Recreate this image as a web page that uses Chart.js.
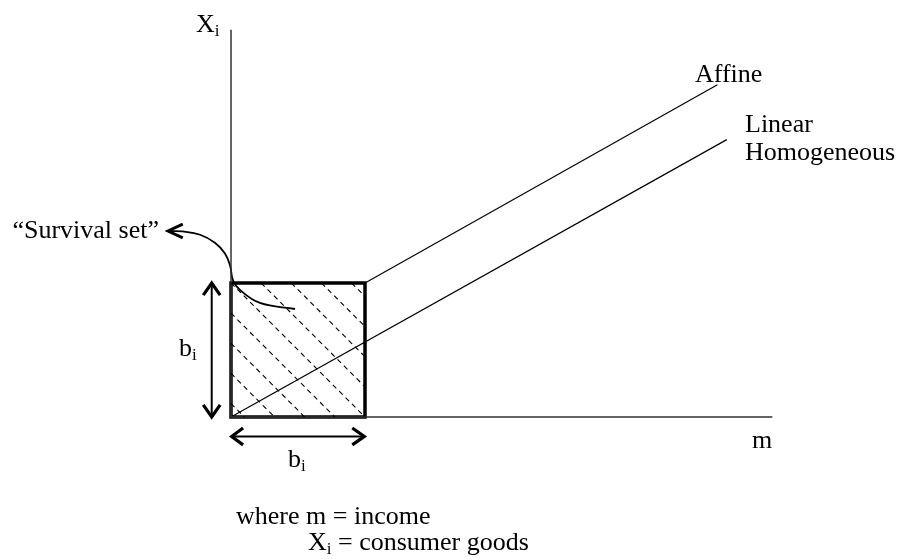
<!DOCTYPE html>
<html>
<head>
<meta charset="utf-8">
<script src="https://cdn.jsdelivr.net/npm/chart.js@4"></script>
<style>
  html, body { margin: 0; padding: 0; background: #fff; }
  canvas { display: block; }
</style>
</head>
<body>
<canvas id="diagram" width="899" height="559"></canvas>
<script>
// Data units: the survival set side b_i = 1
const axisX = [0, 0, 4.04];
const axisY = [2.89, 0, 0];

const boxX = [0, 0, 1, 1, 0];
const boxY = [0, 1, 1, 0, 0];

const affineX = [1, 3.63];
const affineY = [1, 2.48];

const linearX = [0, 3.70];
const linearY = [0, 2.07];

// dashed hatching inside the box, [x1, y1, x2, y2]
const hatchSegments = [
  [0, 0.1, 0.1, 0],
  [0, 0.325, 0.325, 0],
  [0, 0.55, 0.55, 0],
  [0, 0.775, 0.775, 0],
  [0, 1, 1, 0],
  [0.225, 1, 1, 0.225],
  [0.45, 1, 1, 0.45],
  [0.675, 1, 1, 0.675],
  [0.9, 1, 1, 0.9]
];

// curved pointer from the box corner to the "Survival set" label
const curveX = [0.478, 0.216, 0.067, 0.015, -0.007, -0.045, -0.12, -0.23, -0.36, -0.455];
const curveY = [0.806, 0.851, 0.948, 1.02, 1.13, 1.22, 1.30, 1.36, 1.385, 1.388];
const curveHeadX = [-0.36, -0.47, -0.36];
const curveHeadY = [1.44, 1.388, 1.336];

// double arrows marking b_i
const vArrowX = [-0.144, -0.144];
const vArrowY = [0, 1];
const vHeadTopX = [-0.207, -0.144, -0.081];
const vHeadTopY = [0.91, 1, 0.91];
const vHeadBotX = [-0.207, -0.144, -0.081];
const vHeadBotY = [0.09, 0, 0.09];

const hArrowX = [0.005, 0.995];
const hArrowY = [-0.145, -0.145];
const hHeadLeftX = [0.09, 0.005, 0.09];
const hHeadLeftY = [-0.082, -0.145, -0.208];
const hHeadRightX = [0.905, 0.995, 0.905];
const hHeadRightY = [-0.082, -0.145, -0.208];

const labelTexts = {
  yAxis: ['X', 'i'],
  xAxis: 'm',
  affine: 'Affine',
  linear: ['Linear', 'Homogeneous'],
  survival: '\u201CSurvival set\u201D',
  side: ['b', 'i'],
  note1: 'where m = income',
  note2: ['X', 'i', ' = consumer goods']
};

// pixel layout of the picture
const ORIGIN_X = 231;
const ORIGIN_Y = 417;
const UNIT = 134;
const W = 899;
const H = 559;

function pts(xs, ys) {
  return xs.map((x, i) => ({ x: x, y: ys[i] }));
}

function lineSet(data, opts) {
  return Object.assign({
    data: data,
    showLine: true,
    borderColor: '#000',
    borderWidth: 1.2,
    pointRadius: 0,
    fill: false,
    tension: 0
  }, opts || {});
}

const datasets = [];

// hatching first so everything else sits on top
hatchSegments.forEach(s => {
  datasets.push(lineSet(pts([s[0], s[2]], [s[1], s[3]]), { borderDash: [5, 4], borderWidth: 1.1 }));
});

datasets.push(lineSet(pts(axisX, axisY), { borderColor: '#333', borderWidth: 1.5 }));
datasets.push(lineSet(pts(affineX, affineY)));
datasets.push(lineSet(pts(linearX, linearY)));
datasets.push(lineSet(pts(boxX, boxY), { borderWidth: 3.5, borderJoinStyle: 'miter', borderCapStyle: 'square' }));
datasets.push(lineSet(pts(curveX, curveY), { tension: 0.4, borderWidth: 1.8 }));
datasets.push(lineSet(pts(curveHeadX, curveHeadY), { borderWidth: 3, borderJoinStyle: 'miter' }));

datasets.push(lineSet(pts(vArrowX, vArrowY), { borderWidth: 2 }));
datasets.push(lineSet(pts(vHeadTopX, vHeadTopY), { borderWidth: 3.2, borderJoinStyle: 'miter' }));
datasets.push(lineSet(pts(vHeadBotX, vHeadBotY), { borderWidth: 3.2, borderJoinStyle: 'miter' }));
datasets.push(lineSet(pts(hArrowX, hArrowY), { borderWidth: 2 }));
datasets.push(lineSet(pts(hHeadLeftX, hHeadLeftY), { borderWidth: 3.2, borderJoinStyle: 'miter' }));
datasets.push(lineSet(pts(hHeadRightX, hHeadRightY), { borderWidth: 3.2, borderJoinStyle: 'miter' }));

// Draw text with an optional subscript piece
function drawSub(ctx, x, y, main, sub, rest) {
  ctx.font = '26px "Liberation Serif", "Times New Roman", serif';
  ctx.fillText(main, x, y);
  let cx = x + ctx.measureText(main).width;
  ctx.font = '17px "Liberation Serif", "Times New Roman", serif';
  ctx.fillText(sub, cx, y + 4);
  cx += ctx.measureText(sub).width;
  if (rest) {
    ctx.font = '26px "Liberation Serif", "Times New Roman", serif';
    ctx.fillText(rest, cx, y);
  }
}

const textPlugin = {
  id: 'diagramText',
  afterDraw(chart) {
    const ctx = chart.ctx;
    ctx.save();
    ctx.fillStyle = '#000';
    ctx.textBaseline = 'alphabetic';
    ctx.textAlign = 'left';

    drawSub(ctx, 196, 32, labelTexts.yAxis[0], labelTexts.yAxis[1]);

    ctx.font = '26px "Liberation Serif", "Times New Roman", serif';
    ctx.fillText(labelTexts.affine, 695, 82);
    ctx.fillText(labelTexts.linear[0], 745, 132);
    ctx.fillText(labelTexts.linear[1], 745, 160);
    ctx.fillText(labelTexts.xAxis, 752, 448);

    ctx.textAlign = 'right';
    ctx.fillText(labelTexts.survival, 159, 238);
    ctx.textAlign = 'left';

    drawSub(ctx, 179, 356, labelTexts.side[0], labelTexts.side[1]);
    drawSub(ctx, 288, 467, labelTexts.side[0], labelTexts.side[1]);

    ctx.font = '26px "Liberation Serif", "Times New Roman", serif';
    ctx.fillText(labelTexts.note1, 236, 524);
    drawSub(ctx, 308, 550, labelTexts.note2[0], labelTexts.note2[1], labelTexts.note2[2]);

    ctx.restore();
  }
};

new Chart(document.getElementById('diagram').getContext('2d'), {
  type: 'scatter',
  data: { datasets: datasets },
  options: {
    responsive: false,
    animation: false,
    layout: { padding: 0 },
    scales: {
      x: {
        type: 'linear',
        display: false,
        min: -ORIGIN_X / UNIT,
        max: (W - ORIGIN_X) / UNIT
      },
      y: {
        type: 'linear',
        display: false,
        min: -(H - ORIGIN_Y) / UNIT,
        max: ORIGIN_Y / UNIT
      }
    },
    plugins: {
      legend: { display: false },
      tooltip: { enabled: false }
    },
    elements: { point: { radius: 0 } }
  },
  plugins: [textPlugin]
});
</script>
</body>
</html>
